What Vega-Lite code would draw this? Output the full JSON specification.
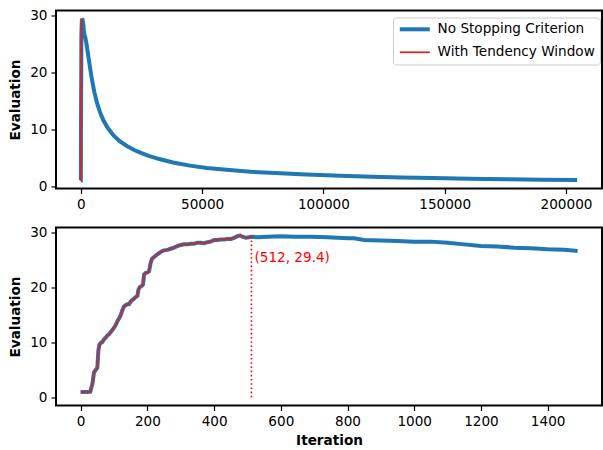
{
  "$schema": "https://vega.github.io/schema/vega-lite/v6.json",
  "padding": {"left": 7, "top": 7.5, "right": 0, "bottom": 0},
  "config": {
    "font": "DejaVu Sans",
    "view": {"stroke": "black", "strokeWidth": 2},
    "axis": {"domain": false, "grid": false, "tickColor": "black", "tickSize": 5, "tickWidth": 1.2, "labelFontSize": 13.6, "labelColor": "black", "labelPadding": 4, "titleFontSize": 13.6, "titleFontWeight": "bold", "titleColor": "black"},
    "legend": {"labelFontSize": 13.6, "labelColor": "black", "labelFont": "DejaVu Sans", "padding": 5, "rowPadding": 7, "strokeColor": "#cccccc", "fillColor": "rgba(255,255,255,0.8)", "cornerRadius": 3, "labelLimit": 300, "symbolType": "M-1,0H5", "symbolSize": 100, "labelOffset": 26},
    "concat": {"spacing": 12}
  },
  "datasets": {
    "runs": [
      {"s":"No Stopping Criterion","it":0,"v":1.0},{"s":"No Stopping Criterion","it":10,"v":1.0},{"s":"No Stopping Criterion","it":20,"v":1.0},{"s":"No Stopping Criterion","it":29,"v":1.05},{"s":"No Stopping Criterion","it":32,"v":1.8},{"s":"No Stopping Criterion","it":35,"v":2.4},{"s":"No Stopping Criterion","it":40,"v":4.6},{"s":"No Stopping Criterion","it":45,"v":5.0},{"s":"No Stopping Criterion","it":50,"v":5.4},{"s":"No Stopping Criterion","it":53,"v":8.5},{"s":"No Stopping Criterion","it":56,"v":9.6},{"s":"No Stopping Criterion","it":60,"v":9.9},{"s":"No Stopping Criterion","it":65,"v":10.1},{"s":"No Stopping Criterion","it":70,"v":10.6},{"s":"No Stopping Criterion","it":75,"v":10.9},{"s":"No Stopping Criterion","it":80,"v":11.3},{"s":"No Stopping Criterion","it":85,"v":11.5},{"s":"No Stopping Criterion","it":90,"v":11.9},{"s":"No Stopping Criterion","it":95,"v":12.3},{"s":"No Stopping Criterion","it":100,"v":12.7},{"s":"No Stopping Criterion","it":105,"v":13.2},{"s":"No Stopping Criterion","it":110,"v":13.9},{"s":"No Stopping Criterion","it":115,"v":14.4},{"s":"No Stopping Criterion","it":120,"v":15.0},{"s":"No Stopping Criterion","it":125,"v":15.9},{"s":"No Stopping Criterion","it":130,"v":16.6},{"s":"No Stopping Criterion","it":135,"v":16.8},{"s":"No Stopping Criterion","it":140,"v":17.0},{"s":"No Stopping Criterion","it":145,"v":17.0},{"s":"No Stopping Criterion","it":150,"v":17.5},{"s":"No Stopping Criterion","it":155,"v":17.8},{"s":"No Stopping Criterion","it":160,"v":18.0},{"s":"No Stopping Criterion","it":165,"v":18.3},{"s":"No Stopping Criterion","it":170,"v":18.5},{"s":"No Stopping Criterion","it":173,"v":19.6},{"s":"No Stopping Criterion","it":177,"v":20.1},{"s":"No Stopping Criterion","it":183,"v":20.3},{"s":"No Stopping Criterion","it":187,"v":20.6},{"s":"No Stopping Criterion","it":190,"v":22.4},{"s":"No Stopping Criterion","it":195,"v":22.7},{"s":"No Stopping Criterion","it":200,"v":22.8},{"s":"No Stopping Criterion","it":205,"v":23.0},{"s":"No Stopping Criterion","it":210,"v":24.6},{"s":"No Stopping Criterion","it":214,"v":25.3},{"s":"No Stopping Criterion","it":220,"v":25.6},{"s":"No Stopping Criterion","it":228,"v":26.0},{"s":"No Stopping Criterion","it":235,"v":26.3},{"s":"No Stopping Criterion","it":242,"v":26.6},{"s":"No Stopping Criterion","it":250,"v":26.8},{"s":"No Stopping Criterion","it":260,"v":26.9},{"s":"No Stopping Criterion","it":270,"v":27.1},{"s":"No Stopping Criterion","it":280,"v":27.3},{"s":"No Stopping Criterion","it":290,"v":27.6},{"s":"No Stopping Criterion","it":300,"v":27.8},{"s":"No Stopping Criterion","it":310,"v":27.9},{"s":"No Stopping Criterion","it":320,"v":27.9},{"s":"No Stopping Criterion","it":330,"v":28.0},{"s":"No Stopping Criterion","it":340,"v":28.0},{"s":"No Stopping Criterion","it":350,"v":28.2},{"s":"No Stopping Criterion","it":360,"v":28.2},{"s":"No Stopping Criterion","it":370,"v":28.1},{"s":"No Stopping Criterion","it":380,"v":28.3},{"s":"No Stopping Criterion","it":390,"v":28.4},{"s":"No Stopping Criterion","it":400,"v":28.7},{"s":"No Stopping Criterion","it":410,"v":28.7},{"s":"No Stopping Criterion","it":420,"v":28.8},{"s":"No Stopping Criterion","it":430,"v":28.8},{"s":"No Stopping Criterion","it":440,"v":28.9},{"s":"No Stopping Criterion","it":450,"v":28.9},{"s":"No Stopping Criterion","it":460,"v":29.1},{"s":"No Stopping Criterion","it":470,"v":29.4},{"s":"No Stopping Criterion","it":478,"v":29.5},{"s":"No Stopping Criterion","it":485,"v":29.3},{"s":"No Stopping Criterion","it":495,"v":29.1},{"s":"No Stopping Criterion","it":505,"v":29.2},{"s":"No Stopping Criterion","it":512,"v":29.3},
      {"s":"No Stopping Criterion","it":530,"v":29.2},{"s":"No Stopping Criterion","it":560,"v":29.3},{"s":"No Stopping Criterion","it":600,"v":29.4},{"s":"No Stopping Criterion","it":640,"v":29.3},{"s":"No Stopping Criterion","it":690,"v":29.3},{"s":"No Stopping Criterion","it":740,"v":29.2},{"s":"No Stopping Criterion","it":800,"v":29.0},{"s":"No Stopping Criterion","it":820,"v":29.0},{"s":"No Stopping Criterion","it":850,"v":28.7},{"s":"No Stopping Criterion","it":900,"v":28.6},{"s":"No Stopping Criterion","it":950,"v":28.5},{"s":"No Stopping Criterion","it":1000,"v":28.4},{"s":"No Stopping Criterion","it":1050,"v":28.4},{"s":"No Stopping Criterion","it":1100,"v":28.2},{"s":"No Stopping Criterion","it":1150,"v":27.9},{"s":"No Stopping Criterion","it":1200,"v":27.6},{"s":"No Stopping Criterion","it":1250,"v":27.5},{"s":"No Stopping Criterion","it":1300,"v":27.3},{"s":"No Stopping Criterion","it":1350,"v":27.2},{"s":"No Stopping Criterion","it":1400,"v":27.0},{"s":"No Stopping Criterion","it":1450,"v":26.9},{"s":"No Stopping Criterion","it":1490,"v":26.7},
      {"s":"No Stopping Criterion","it":1900,"v":26.1},{"s":"No Stopping Criterion","it":2500,"v":24.6},{"s":"No Stopping Criterion","it":3260,"v":22.4},{"s":"No Stopping Criterion","it":4000,"v":20.3},{"s":"No Stopping Criterion","it":4650,"v":18.6},{"s":"No Stopping Criterion","it":5600,"v":16.5},{"s":"No Stopping Criterion","it":6700,"v":14.6},{"s":"No Stopping Criterion","it":8000,"v":12.9},{"s":"No Stopping Criterion","it":9400,"v":11.5},{"s":"No Stopping Criterion","it":11000,"v":10.3},{"s":"No Stopping Criterion","it":13500,"v":8.9},{"s":"No Stopping Criterion","it":16000,"v":7.9},{"s":"No Stopping Criterion","it":19000,"v":7.05},{"s":"No Stopping Criterion","it":22000,"v":6.35},{"s":"No Stopping Criterion","it":25000,"v":5.8},{"s":"No Stopping Criterion","it":28000,"v":5.3},{"s":"No Stopping Criterion","it":32000,"v":4.8},{"s":"No Stopping Criterion","it":38000,"v":4.15},{"s":"No Stopping Criterion","it":45000,"v":3.6},{"s":"No Stopping Criterion","it":52000,"v":3.2},{"s":"No Stopping Criterion","it":60000,"v":2.86},{"s":"No Stopping Criterion","it":70000,"v":2.52},{"s":"No Stopping Criterion","it":80000,"v":2.28},{"s":"No Stopping Criterion","it":93000,"v":2.04},{"s":"No Stopping Criterion","it":107000,"v":1.82},{"s":"No Stopping Criterion","it":120000,"v":1.64},{"s":"No Stopping Criterion","it":132000,"v":1.52},{"s":"No Stopping Criterion","it":145000,"v":1.4},{"s":"No Stopping Criterion","it":160000,"v":1.29},{"s":"No Stopping Criterion","it":175000,"v":1.2},{"s":"No Stopping Criterion","it":190000,"v":1.12},{"s":"No Stopping Criterion","it":204600,"v":1.05},
      {"s":"With Tendency Window","it":0,"v":1.0},{"s":"With Tendency Window","it":10,"v":1.0},{"s":"With Tendency Window","it":20,"v":1.0},{"s":"With Tendency Window","it":29,"v":1.05},{"s":"With Tendency Window","it":32,"v":1.8},{"s":"With Tendency Window","it":35,"v":2.4},{"s":"With Tendency Window","it":40,"v":4.6},{"s":"With Tendency Window","it":45,"v":5.0},{"s":"With Tendency Window","it":50,"v":5.4},{"s":"With Tendency Window","it":53,"v":8.5},{"s":"With Tendency Window","it":56,"v":9.6},{"s":"With Tendency Window","it":60,"v":9.9},{"s":"With Tendency Window","it":65,"v":10.1},{"s":"With Tendency Window","it":70,"v":10.6},{"s":"With Tendency Window","it":75,"v":10.9},{"s":"With Tendency Window","it":80,"v":11.3},{"s":"With Tendency Window","it":85,"v":11.5},{"s":"With Tendency Window","it":90,"v":11.9},{"s":"With Tendency Window","it":95,"v":12.3},{"s":"With Tendency Window","it":100,"v":12.7},{"s":"With Tendency Window","it":105,"v":13.2},{"s":"With Tendency Window","it":110,"v":13.9},{"s":"With Tendency Window","it":115,"v":14.4},{"s":"With Tendency Window","it":120,"v":15.0},{"s":"With Tendency Window","it":125,"v":15.9},{"s":"With Tendency Window","it":130,"v":16.6},{"s":"With Tendency Window","it":135,"v":16.8},{"s":"With Tendency Window","it":140,"v":17.0},{"s":"With Tendency Window","it":145,"v":17.0},{"s":"With Tendency Window","it":150,"v":17.5},{"s":"With Tendency Window","it":155,"v":17.8},{"s":"With Tendency Window","it":160,"v":18.0},{"s":"With Tendency Window","it":165,"v":18.3},{"s":"With Tendency Window","it":170,"v":18.5},{"s":"With Tendency Window","it":173,"v":19.6},{"s":"With Tendency Window","it":177,"v":20.1},{"s":"With Tendency Window","it":183,"v":20.3},{"s":"With Tendency Window","it":187,"v":20.6},{"s":"With Tendency Window","it":190,"v":22.4},{"s":"With Tendency Window","it":195,"v":22.7},{"s":"With Tendency Window","it":200,"v":22.8},{"s":"With Tendency Window","it":205,"v":23.0},{"s":"With Tendency Window","it":210,"v":24.6},{"s":"With Tendency Window","it":214,"v":25.3},{"s":"With Tendency Window","it":220,"v":25.6},{"s":"With Tendency Window","it":228,"v":26.0},{"s":"With Tendency Window","it":235,"v":26.3},{"s":"With Tendency Window","it":242,"v":26.6},{"s":"With Tendency Window","it":250,"v":26.8},{"s":"With Tendency Window","it":260,"v":26.9},{"s":"With Tendency Window","it":270,"v":27.1},{"s":"With Tendency Window","it":280,"v":27.3},{"s":"With Tendency Window","it":290,"v":27.6},{"s":"With Tendency Window","it":300,"v":27.8},{"s":"With Tendency Window","it":310,"v":27.9},{"s":"With Tendency Window","it":320,"v":27.9},{"s":"With Tendency Window","it":330,"v":28.0},{"s":"With Tendency Window","it":340,"v":28.0},{"s":"With Tendency Window","it":350,"v":28.2},{"s":"With Tendency Window","it":360,"v":28.2},{"s":"With Tendency Window","it":370,"v":28.1},{"s":"With Tendency Window","it":380,"v":28.3},{"s":"With Tendency Window","it":390,"v":28.4},{"s":"With Tendency Window","it":400,"v":28.7},{"s":"With Tendency Window","it":410,"v":28.7},{"s":"With Tendency Window","it":420,"v":28.8},{"s":"With Tendency Window","it":430,"v":28.8},{"s":"With Tendency Window","it":440,"v":28.9},{"s":"With Tendency Window","it":450,"v":28.9},{"s":"With Tendency Window","it":460,"v":29.1},{"s":"With Tendency Window","it":470,"v":29.4},{"s":"With Tendency Window","it":478,"v":29.5},{"s":"With Tendency Window","it":485,"v":29.3},{"s":"With Tendency Window","it":495,"v":29.1},{"s":"With Tendency Window","it":505,"v":29.2},{"s":"With Tendency Window","it":512,"v":29.3}
    ],
    "stop": [{"it": 512, "v": 29.4, "label": "(512, 29.4)"}]
  },
  "vconcat": [
    {
      "width": 546,
      "height": 178,
      "data": {"name": "runs"},
      "encoding": {
        "x": {"field": "it", "type": "quantitative", "scale": {"domain": [-10230, 214830], "nice": false, "zero": false}, "axis": {"title": null, "values": [0, 50000, 100000, 150000, 200000], "format": "d"}},
        "y": {"field": "v", "type": "quantitative", "scale": {"domain": [-0.43, 30.92], "nice": false, "zero": false}, "axis": {"title": "Evaluation", "values": [0, 10, 20, 30], "titlePadding": 7}},
        "color": {"field": "s", "type": "nominal", "scale": {"domain": ["No Stopping Criterion", "With Tendency Window"], "range": ["#1f77b4", "#d62728"]}, "legend": {"title": null, "orient": "none", "legendX": 337, "legendY": 7, "encode": {"symbols": {"update": {"strokeWidth": {"signal": "datum.value === 'No Stopping Criterion' ? 4 : 1.8"}}}}}}
      },
      "layer": [
        {"transform": [{"filter": "datum.s === 'No Stopping Criterion'"}], "mark": {"type": "line", "strokeWidth": 4}},
        {"transform": [{"filter": "datum.s === 'With Tendency Window'"}], "mark": {"type": "line", "strokeWidth": 1.8}}
      ]
    },
    {
      "width": 546,
      "height": 178,
      "encoding": {
        "x": {"field": "it", "type": "quantitative", "scale": {"domain": [-74, 1563], "nice": false, "zero": false}, "axis": {"title": "Iteration", "values": [0, 200, 400, 600, 800, 1000, 1200, 1400], "format": "d", "titlePadding": 5}},
        "y": {"field": "v", "type": "quantitative", "scale": {"domain": [-1.475, 30.975], "nice": false, "zero": false}, "axis": {"title": "Evaluation", "values": [0, 10, 20, 30], "titlePadding": 7}}
      },
      "layer": [
        {
          "data": {"name": "runs"},
          "transform": [{"filter": "datum.s === 'No Stopping Criterion' && datum.it <= 1500"}],
          "mark": {"type": "line", "color": "#1f77b4", "strokeWidth": 4}
        },
        {
          "data": {"name": "runs"},
          "transform": [{"filter": "datum.s === 'With Tendency Window'"}],
          "mark": {"type": "line", "color": "#d62728", "strokeWidth": 1.8}
        },
        {
          "data": {"name": "stop"},
          "mark": {"type": "rule", "color": "#ff0000", "strokeWidth": 1.6, "strokeDash": [1.6, 2.6]},
          "encoding": {
            "y": {"datum": 0},
            "y2": {"field": "v"}
          }
        },
        {
          "data": {"name": "stop"},
          "mark": {"type": "text", "color": "#ff0000", "fontSize": 13.6, "align": "left", "baseline": "middle", "dx": 3, "dy": 22},
          "encoding": {
            "text": {"field": "label"}
          }
        }
      ]
    }
  ]
}
